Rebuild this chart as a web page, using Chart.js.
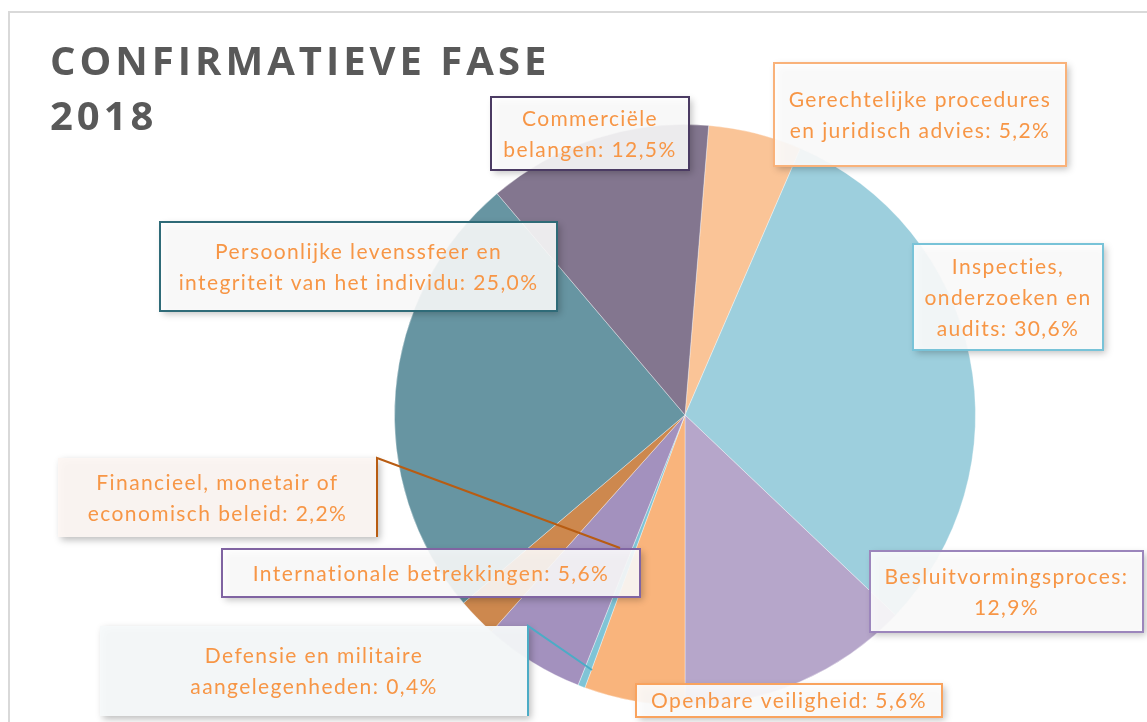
<!DOCTYPE html>
<html>
<head>
<meta charset="utf-8">
<title>Confirmatieve fase 2018</title>
<script src="https://cdn.jsdelivr.net/npm/chart.js@4"></script>
<style>
    html, body { margin: 0; padding: 0; background: #fff; }
    #wrap { width: 1147px; height: 722px; position: relative; }
</style>
</head>
<body>
<div id="wrap"><canvas id="myChart" width="1147" height="722"></canvas></div>
<script>
// Data
const categories = [
    'Gerechtelijke procedures en juridisch advies',
    'Inspecties, onderzoeken en audits',
    'Besluitvormingsproces',
    'Openbare veiligheid',
    'Defensie en militaire aangelegenheden',
    'Internationale betrekkingen',
    'Financieel, monetair of economisch beleid',
    'Persoonlijke levenssfeer en integriteit van het individu',
    'Commerciële belangen'
];
const shares = [5.2, 30.6, 12.9, 5.6, 0.4, 5.6, 2.2, 25.0, 12.5];
// label text as shown, {v} = value
const labelTexts = [
    'Gerechtelijke procedures|en juridisch advies: {v}',
    'Inspecties,|onderzoeken en|audits: {v}',
    'Besluitvormingsproces:|{v}',
    'Openbare veiligheid: {v}',
    'Defensie en militaire|aangelegenheden: {v}',
    'Internationale betrekkingen: {v}',
    'Financieel, monetair of|economisch beleid: {v}',
    'Persoonlijke levenssfeer en|integriteit van het individu: {v}',
    'Commerciële|belangen: {v}'
];
const titleLines = ['CONFIRMATIEVE FASE', '2018'];

const sliceColors = ['#FAC497', '#9DCFDD', '#B6A6CA', '#F9B47C', '#7FC4D6', '#A391BE', '#CD884E', '#6795A2', '#83768F'];

// label boxes: x, y, w, h, border, fill, leader
const boxes = [
    { x: 774, y: 63, w: 292, h: 103, border: '#F9B27A', fill: 'rgba(255,255,255,0.9)' },
    { x: 913, y: 244, w: 190, h: 106, border: '#78C3D8', fill: 'rgba(255,255,255,0.9)' },
    { x: 870, y: 551, w: 273, h: 81, border: '#9C86BC', fill: 'rgba(255,255,255,0.9)' },
    { x: 636, y: 684, w: 306, h: 33, border: '#F9A35E', fill: 'rgba(255,255,255,0.9)' },
    { x: 100, y: 626, w: 428, h: 90, border: null, fill: 'rgba(246,249,250,0.95)',
      leader: { color: '#4BACC6', pts: [[528, 716], [528, 626], [592, 670]] } },
    { x: 222, y: 549, w: 418, h: 48, border: '#8064A2', fill: 'rgba(255,255,255,0.88)' },
    { x: 58, y: 458, w: 319, h: 79, border: null, fill: 'rgba(252,246,242,0.95)',
      leader: { color: '#B85C12', pts: [[377, 537], [377, 458], [620, 548]] } },
    { x: 160, y: 222, w: 397, h: 89, border: '#2F6B78', fill: 'rgba(255,255,255,0.88)' },
    { x: 491, y: 97, w: 198, h: 73, border: '#4B3B63', fill: 'rgba(255,255,255,0.88)' }
];

function fmt(v) {
    return v.toFixed(1).replace('.', ',') + '%';
}

const decorPlugin = {
    id: 'decor',
    beforeDraw: function(chart) {
        var ctx = chart.ctx;
        ctx.save();
        // outer frame
        ctx.strokeStyle = '#D9D9D9';
        ctx.lineWidth = 2;
        ctx.strokeRect(9, 12, 1300, 900);
        // title
        ctx.fillStyle = '#595959';
        ctx.font = 'bold 40px "Open Sans", sans-serif';
        ctx.textBaseline = 'alphabetic';
        ctx.textAlign = 'left';
        if ('letterSpacing' in ctx) ctx.letterSpacing = '4px';
        ctx.fillText(titleLines[0], 50, 75);
        ctx.fillText(titleLines[1], 50, 130);
        ctx.restore();
    },
    afterDraw: function(chart) {
        var ctx = chart.ctx;
        var lh = 31;
        boxes.forEach(function(b, i) {
            ctx.save();
            ctx.shadowColor = 'rgba(0,0,0,0.28)';
            ctx.shadowBlur = 7;
            ctx.shadowOffsetX = 3;
            ctx.shadowOffsetY = 3;
            ctx.fillStyle = b.fill;
            ctx.fillRect(b.x, b.y, b.w, b.h);
            ctx.restore();
            if (b.border) {
                ctx.save();
                ctx.strokeStyle = b.border;
                ctx.lineWidth = 2;
                ctx.strokeRect(b.x, b.y, b.w, b.h);
                ctx.restore();
            }
            if (b.leader) {
                ctx.save();
                ctx.strokeStyle = b.leader.color;
                ctx.lineWidth = 2;
                ctx.beginPath();
                b.leader.pts.forEach(function(p, k) {
                    if (k == 0) ctx.moveTo(p[0], p[1]);
                    else ctx.lineTo(p[0], p[1]);
                });
                ctx.stroke();
                ctx.restore();
            }
            // text
            var lines = labelTexts[i].replace('{v}', fmt(shares[i])).split('|');
            ctx.save();
            ctx.fillStyle = '#F79646';
            ctx.font = '21px Lato, sans-serif';
            if ('letterSpacing' in ctx) ctx.letterSpacing = '1.4px';
            ctx.textAlign = 'center';
            ctx.textBaseline = 'middle';
            var cx = b.x + b.w / 2;
            var cy = b.y + b.h / 2 + 1;
            lines.forEach(function(t, k) {
                ctx.fillText(t, cx, cy + (k - (lines.length - 1) / 2) * lh);
            });
            ctx.restore();
        });
    }
};

var config = {
    type: 'pie',
    data: {
        labels: categories,
        datasets: [{
            data: shares,
            backgroundColor: sliceColors,
            borderColor: 'rgba(255,255,255,0.35)',
            borderWidth: 1
        }]
    },
    options: {
        responsive: false,
        animation: false,
        rotation: 4.68,
        layout: {
            padding: { left: 394, right: 171, top: 124, bottom: 16 }
        },
        plugins: {
            legend: { display: false },
            tooltip: { enabled: false }
        }
    },
    plugins: [decorPlugin]
};

var myChart = new Chart(document.getElementById('myChart'), config);
</script>
</body>
</html>
